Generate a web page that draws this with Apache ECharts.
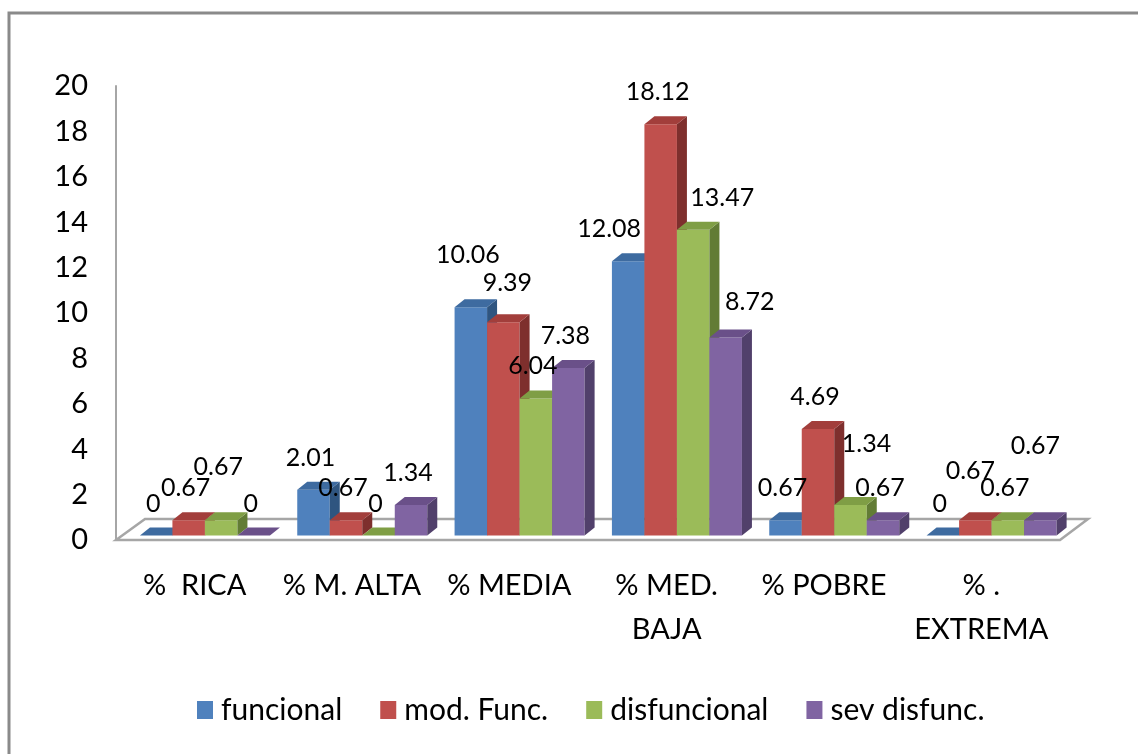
<!DOCTYPE html>
<html>
<head>
<meta charset="utf-8">
<script src="https://cdn.jsdelivr.net/npm/echarts@6/dist/echarts.min.js"></script>
<style>
  html, body { margin: 0; padding: 0; background: #fff; }
  #chart { width: 1138px; height: 754px; }
</style>
</head>
<body>
<div id="chart"></div>
<script>
// data
const categories = ['%  RICA', '% M. ALTA', '% MEDIA', '% MED.\nBAJA', '% POBRE', '% .\nEXTREMA'];
const seriesNames = ['funcional', 'mod. Func.', 'disfuncional', 'sev disfunc.'];
const funcional = [0, 2.01, 10.06, 12.08, 0.67, 0];
const modFunc = [0.67, 0.67, 9.39, 18.12, 4.69, 0.67];
const disfuncional = [0.67, 0, 6.04, 13.47, 1.34, 0.67];
const sevDisfunc = [0, 1.34, 7.38, 8.72, 0.67, 0.67];
const yTicks = { min: 0, max: 20, interval: 2 };

// front / top / side colours per series
const palette = [
    ['#4F81BD', '#3E6BA0', '#2F5580'],
    ['#C0504D', '#A23E3B', '#7E2F2D'],
    ['#9BBB59', '#7F9E45', '#627C35'],
    ['#8064A2', '#6A5089', '#51406B'],
];

// labels Excel left where they were dragged to (pixel nudges)
const labelNudge = {
    '2-0': [0, -21],
    '0-2': [0, -20], '1-2': [7, -7],
    '0-3': [-16, 0], '2-3': [32, 0], '3-3': [27, -4],
    '2-4': [19, -29],
    '1-5': [-2, -17], '3-5': [-2, -42],
};

const FONT = 'Lato, "Liberation Sans", sans-serif';
const DX = 10, DY = -8, LIFT = 4.5;

function barRenderer(s) {
    return function (params, api) {
        const k = api.value(0);
        const v = api.value(1);
        const base = api.coord([k, 0]);
        const top = api.coord([k, v]);
        const band = api.size([1, 0])[0];
        const w = band * 0.2066;
        const x = base[0] - band * 0.348 + s * w;
        const y0 = base[1] - LIFT;
        const y1 = top[1] - LIFT;
        const c = palette[s];
        const children = [];
        if (y0 - y1 > 0.5) {
            children.push({
                type: 'rect', z2: 10 + s * 3,
                shape: {x: x, y: y1, width: w, height: y0 - y1},
                style: {fill: c[0]}
            });
            children.push({
                type: 'polygon', z2: 11 + s * 3,
                shape: {points: [[x + w, y1], [x + w + DX, y1 + DY], [x + w + DX, y0 + DY], [x + w, y0]]},
                style: {fill: c[2]}
            });
        }
        children.push({
            type: 'polygon', z2: 12 + s * 3,
            shape: {points: [[x, y1], [x + w, y1], [x + w + DX, y1 + DY], [x + DX, y1 + DY]]},
            style: {fill: c[1]}
        });
        const nudge = labelNudge[s + '-' + k] || [0, 0];
        children.push({
            type: 'text', z2: 100,
            style: {
                text: String(v),
                x: x + w / 2 - 3 + nudge[0],
                y: y1 - 32 + nudge[1],
                align: 'center',
                verticalAlign: 'middle',
                fontSize: 25,
                fontFamily: FONT,
                fill: '#000'
            }
        });
        return {type: 'group', children: children};
    };
}

function floorRenderer(params, api) {
    const cs = params.coordSys;
    const yb = api.coord([0, 0])[1];
    const xl = cs.x, xr = cs.x + cs.width;
    return {
        type: 'polygon', z2: 0,
        shape: {points: [[xl, yb], [xr, yb], [xr + 28, yb - 21], [xl + 29, yb - 21]]},
        style: {fill: '#fff', stroke: '#A6A6A6', lineWidth: 2.5}
    };
}

const allValues = [funcional, modFunc, disfuncional, sevDisfunc];

const myChart = echarts.init(document.getElementById('chart'));

const option = {
    backgroundColor: '#fff',
    animation: false,
    graphic: [{
        type: 'rect', z: -1,
        shape: {x: 9, y: 13, width: 1200, height: 800},
        style: {fill: 'none', stroke: '#8A8A8A', lineWidth: 3}
    }],
    grid: {left: 116, right: 78, top: 86, bottom: 214},
    legend: {
        data: seriesNames,
        left: 192,
        top: 690,
        itemWidth: 16,
        itemHeight: 18,
        itemGap: 38,
        icon: 'rect',
        textStyle: {fontSize: 30, fontFamily: FONT, color: '#000', padding: [0, 0, 0, 3]}
    },
    xAxis: {
        type: 'category',
        data: categories,
        axisLine: {show: false},
        axisTick: {show: false},
        axisLabel: {
            interval: 0, margin: 24, fontSize: 29, lineHeight: 44,
            fontFamily: FONT, color: '#000'
        }
    },
    yAxis: {
        type: 'value',
        min: yTicks.min, max: yTicks.max, interval: yTicks.interval,
        splitLine: {show: false},
        axisTick: {show: false},
        axisLine: {show: true, lineStyle: {color: '#A6A6A6', width: 2}},
        axisLabel: {margin: 28, fontSize: 29, fontFamily: FONT, color: '#000'}
    },
    series: [{
        type: 'custom',
        name: 'floor',
        renderItem: floorRenderer,
        data: [[0, 0]],
        silent: true
    }].concat(allValues.map(function (vals, s) {
        return {
            type: 'custom',
            name: seriesNames[s],
            itemStyle: {color: palette[s][0]},
            renderItem: barRenderer(s),
            encode: {x: 0, y: 1},
            data: vals.map(function (v, k) { return [k, v]; })
        };
    }))
};

option && myChart.setOption(option);
</script>
</body>
</html>
